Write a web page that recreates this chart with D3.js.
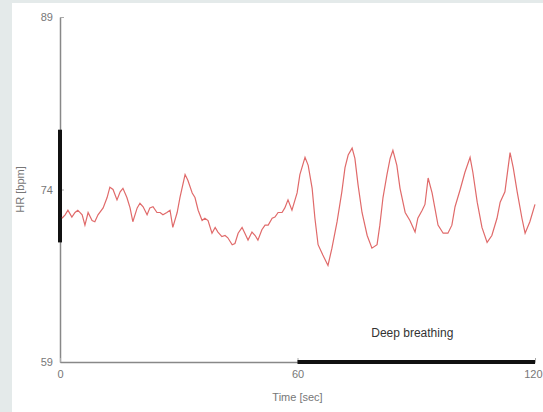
<!DOCTYPE html>
<html>
<head>
<meta charset="utf-8">
<script src="https://cdn.jsdelivr.net/npm/d3@7"></script>
<style>
  html, body { margin: 0; padding: 0; background: #e4eaea; }
  svg { display: block; font-family: "Liberation Sans", Arial, sans-serif; }
</style>
</head>
<body>
<svg id="chart" width="543" height="412"></svg>
<script>
// heart rate trace
const timeSec = [0.5, 1.3, 2.0, 3.0, 3.8, 4.5, 5.6, 6.3, 7.1, 8.1, 8.8, 9.6, 10.9, 11.9, 12.6, 13.4, 14.4, 15.2, 15.9, 16.9,
  17.7, 18.4, 19.5, 20.2, 21.0, 22.0, 22.7, 23.5, 24.5, 25.3, 26.0, 27.0, 27.8, 28.5, 29.6, 30.3, 31.6, 32.3, 33.4, 34.1,
  34.9, 35.9, 36.6, 37.4, 38.4, 39.2, 39.9, 40.9, 41.7, 42.4, 43.5, 44.2, 45.0, 46.0, 46.7, 47.5, 48.5, 49.3, 50.0, 51.0,
  51.8, 52.6, 53.6, 54.3, 55.1, 56.1, 56.8, 57.6, 58.6, 59.9, 60.6, 61.9, 62.7, 63.7, 64.4, 65.2, 66.4, 67.7, 68.7, 70.0,
  71.2, 72.0, 72.8, 73.8, 74.5, 75.3, 76.3, 77.6, 78.8, 80.1, 80.8, 81.6, 82.6, 83.4, 84.1, 85.1, 85.9, 87.2, 88.4, 89.7,
  90.4, 91.5, 92.2, 93.0, 94.0, 94.7, 95.5, 96.8, 98.0, 99.0, 99.8, 101.1, 102.3, 103.6, 104.3, 105.4, 106.6, 107.9, 109.1, 110.4,
  111.2, 112.4, 113.7, 114.5, 115.5, 116.7, 117.5, 118.7, 120.0];
const heartRate = [71.5, 71.8, 72.2, 71.6, 72.0, 72.2, 71.8, 70.9, 72.0, 71.3, 71.2, 71.8, 72.4, 73.3, 74.2, 74.0, 73.1, 73.8, 74.1, 73.3,
  72.4, 71.2, 72.4, 72.8, 72.5, 71.8, 72.4, 72.5, 72.0, 72.0, 71.8, 72.0, 72.2, 70.7, 72.0, 73.3, 75.3, 74.8, 73.7, 73.3,
  72.2, 71.3, 71.5, 71.3, 70.2, 70.7, 70.3, 69.9, 70.0, 69.8, 69.2, 69.3, 70.2, 70.7, 70.2, 69.6, 70.3, 70.0, 69.6, 70.5,
  70.9, 70.9, 71.5, 71.6, 72.0, 72.0, 72.4, 73.1, 72.2, 73.7, 75.3, 76.8, 76.1, 74.1, 71.5, 69.2, 68.3, 67.4, 68.9, 71.2,
  73.8, 75.9, 77.0, 77.6, 76.7, 74.4, 72.0, 70.0, 68.9, 69.2, 70.9, 73.3, 75.3, 76.7, 77.4, 76.1, 74.1, 72.0, 71.3, 70.3,
  71.5, 72.2, 72.7, 75.0, 73.7, 72.4, 70.9, 70.2, 70.2, 70.9, 72.5, 74.0, 75.5, 76.8, 75.5, 72.9, 70.7, 69.4, 70.0, 71.5,
  72.9, 73.8, 77.2, 75.9, 73.8, 71.5, 70.2, 71.2, 72.7];

const xTicks = [0, 60, 120];
const yTicks = [59, 74, 89];
const restRange = [69.4, 79.2];   // thick bar on the HR axis
const breathingSpan = [60, 120];  // thick bar on the time axis

const svg = d3.select('#chart');

// white panel
svg.append('rect')
    .attr('x', 12).attr('y', 3)
    .attr('width', 531).attr('height', 409)
    .attr('fill', '#fff');

const x = d3.scaleLinear().domain([0, 120]).range([60, 535]);
const y = d3.scaleLinear().domain([59, 89]).range([362, 17]);

// y axis
const yAxis = svg.append('g')
    .attr('transform', `translate(${x(0)},0)`)
    .call(d3.axisLeft(y).tickValues(yTicks).tickSizeInner(-4).tickSizeOuter(0).tickPadding(7));
yAxis.select('.domain').attr('stroke', '#888').attr('stroke-width', 1.5);
yAxis.selectAll('.tick line').attr('stroke', '#aaa');
yAxis.selectAll('.tick text').attr('fill', '#777').attr('font-size', 11);

// x axis
const xAxis = svg.append('g')
    .attr('transform', `translate(0,${y(59)})`)
    .call(d3.axisBottom(x).tickValues(xTicks).tickSizeInner(-4).tickSizeOuter(0).tickPadding(8));
xAxis.select('.domain').attr('stroke', '#888').attr('stroke-width', 1.5);
xAxis.selectAll('.tick line').attr('stroke', '#aaa');
xAxis.selectAll('.tick text').attr('fill', '#777').attr('font-size', 11);
// last label sits at the right edge, nudge it in so it is not cut
xAxis.selectAll('.tick text').filter(d => d === 120).attr('text-anchor', 'end').attr('dx', 7);

// thick marker bars
svg.append('line')
    .attr('x1', x(0)).attr('x2', x(0))
    .attr('y1', y(restRange[0])).attr('y2', y(restRange[1]))
    .attr('stroke', '#111').attr('stroke-width', 4);

svg.append('line')
    .attr('x1', x(breathingSpan[0])).attr('x2', x(breathingSpan[1]))
    .attr('y1', y(59)).attr('y2', y(59))
    .attr('stroke', '#111').attr('stroke-width', 4);

svg.append('text')
    .attr('x', x(89)).attr('y', 337)
    .attr('text-anchor', 'middle')
    .attr('font-size', 12)
    .attr('fill', '#333')
    .text('Deep breathing');

// HR trace
const line = d3.line()
    .x((d, i) => x(timeSec[i]))
    .y(d => y(d));

svg.append('path')
    .datum(heartRate)
    .attr('d', line)
    .attr('fill', 'none')
    .attr('stroke', '#e06a6a')
    .attr('stroke-width', 1.2);

// axis titles
svg.append('text')
    .attr('x', x(60)).attr('y', 401)
    .attr('text-anchor', 'middle')
    .attr('font-size', 11)
    .attr('fill', '#777')
    .text('Time [sec]');

svg.append('text')
    .attr('transform', `translate(24,${y(74)}) rotate(-90)`)
    .attr('text-anchor', 'middle')
    .attr('font-size', 11)
    .attr('fill', '#777')
    .text('HR [bpm]');
</script>
</body>
</html>
